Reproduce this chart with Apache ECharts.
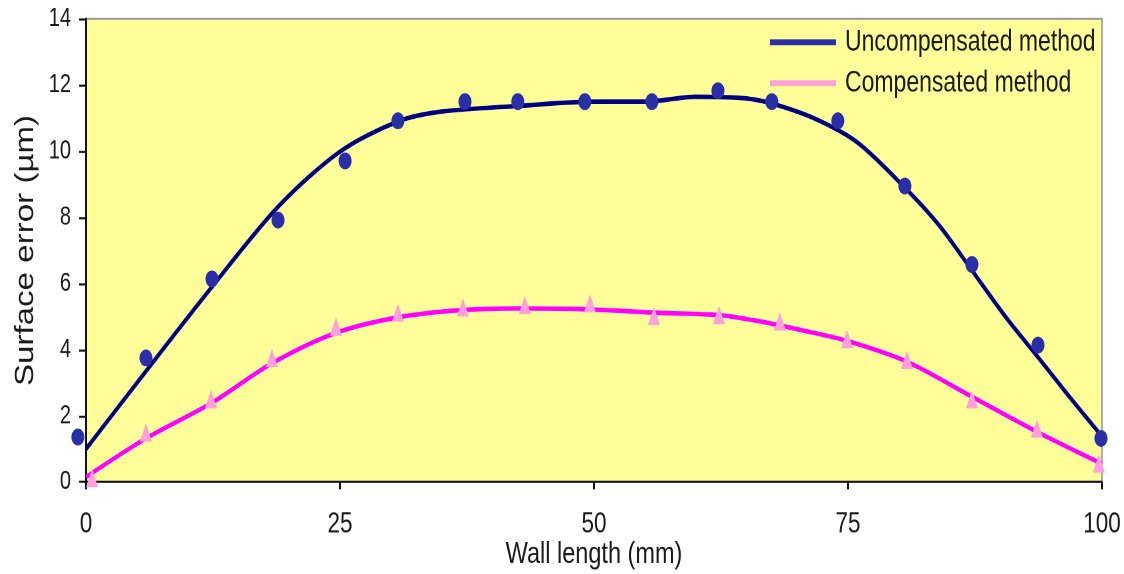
<!DOCTYPE html>
<html>
<head>
<meta charset="utf-8">
<title>Surface error along wall length</title>
<script src="https://cdn.jsdelivr.net/npm/echarts@6/dist/echarts.min.js"></script>
<style>
  html { margin: 0; padding: 0; overflow: hidden; background: #ffffff; }
  body { margin: 0; padding: 0; width: 1124px; height: 574px; background: #ffffff; }
  /* The chart is laid out on a shorter canvas and stretched to full height,
     which gives the tall, narrow lettering and oval markers of the figure. */
  #chart {
    width: 1124px;
    height: 442px;
    transform: scaleY(1.2986);
    transform-origin: 0 0;
  }
</style>
</head>
<body>
<div id="chart"></div>
<script>
// Measured surface error (µm) at positions along the wall (mm)
const uncompX = [-0.8, 5.9, 12.4, 18.9, 25.5, 30.7, 37.3, 42.5, 49.1, 55.7, 62.2, 67.5, 74.0, 80.6, 87.2, 93.7, 99.9];
const uncompY = [1.36, 3.75, 6.14, 7.92, 9.71, 10.92, 11.5, 11.5, 11.5, 11.5, 11.83, 11.5, 10.92, 8.95, 6.58, 4.14, 1.32];

const compX = [0.6, 5.9, 12.3, 18.3, 24.6, 30.7, 37.1, 43.2, 49.6, 55.9, 62.3, 68.3, 74.9, 80.8, 87.2, 93.6, 99.7];
const compY = [0.12, 1.5, 2.5, 3.75, 4.7, 5.12, 5.28, 5.35, 5.4, 5.02, 5.05, 4.85, 4.32, 3.7, 2.5, 1.62, 0.56];

// Trend curves through each data set
const uncompFitX = [0, 6, 12.4, 18.9, 25, 30.7, 35, 42.5, 50, 55, 60, 65, 68, 72, 76, 80.6, 84, 87.2, 90.5, 93.9, 97, 100];
const uncompFitY = [1.0, 3.39, 5.9, 8.32, 9.99, 10.9, 11.2, 11.37, 11.5, 11.5, 11.65, 11.6, 11.4, 10.95, 10.25, 8.9, 7.75, 6.4, 5.0, 3.7, 2.5, 1.38];

const compFitX = [0, 5.9, 12.3, 18.3, 24.6, 30.7, 37, 43, 49.6, 56, 62.3, 66.1, 70.3, 74.9, 80.8, 87.2, 93.6, 100];
const compFitY = [0.15, 1.32, 2.38, 3.59, 4.51, 4.98, 5.2, 5.25, 5.22, 5.12, 5.05, 4.87, 4.6, 4.27, 3.64, 2.58, 1.52, 0.55];

// Axis ticks
const xTicks = [0, 25, 50, 75, 100];
const yTicks = [0, 2, 4, 6, 8, 10, 12, 14];

const seriesNames = ['Uncompensated method', 'Compensated method'];

const pairs = (xs, ys) => xs.map((x, i) => [x, ys[i]]);

const sans = "'Liberation Sans', Arial, sans-serif";
const textColor = '#1a1a1a';

const chart = echarts.init(document.getElementById('chart'), null, {
  renderer: 'canvas',
  devicePixelRatio: 2
});

chart.setOption({
  backgroundColor: '#ffffff',
  animation: false,
  grid: {
    left: 86, right: 22, top: 14.6, bottom: 70.8,
    outerBoundsMode: 'none',
    show: true,
    backgroundColor: '#ffff99',
    borderColor: '#9a9a9a',
    borderWidth: 1.6
  },
  legend: {
    orient: 'vertical',
    left: 765,
    top: 16,
    itemWidth: 66,
    itemHeight: 4.5,
    itemGap: 8.5,
    textStyle: { fontFamily: sans, fontSize: 23, color: textColor, padding: [0, 0, 0, 4] },
    data: [
      { name: seriesNames[0], icon: 'rect', itemStyle: { color: '#2a2fa8' } },
      { name: seriesNames[1], icon: 'rect', itemStyle: { color: '#ff9fdc' } }
    ]
  },
  xAxis: {
    type: 'value',
    min: xTicks[0],
    max: xTicks[xTicks.length - 1],
    interval: 25,
    name: 'Wall length (mm)',
    nameLocation: 'middle',
    nameGap: 44,
    nameMoveOverlap: false,
    nameTextStyle: { fontFamily: sans, fontSize: 23.5, color: textColor },
    axisLine: { lineStyle: { color: '#111', width: 1.6 } },
    axisTick: { show: true, length: 5.5, lineStyle: { color: '#111', width: 2 } },
    axisLabel: { fontFamily: sans, fontSize: 22.5, color: textColor, margin: 21 },
    splitLine: { show: false }
  },
  yAxis: {
    type: 'value',
    min: yTicks[0],
    max: yTicks[yTicks.length - 1],
    interval: 2,
    name: 'Surface error (µm)',
    nameLocation: 'middle',
    nameRotate: 90,
    nameGap: 47,
    nameMoveOverlap: false,
    nameTextStyle: { fontFamily: sans, fontSize: 25.5, color: textColor },
    axisLine: { show: true, lineStyle: { color: '#111', width: 2 } },
    axisTick: { show: true, length: 7, lineStyle: { color: '#111', width: 1.6 } },
    axisLabel: { fontFamily: sans, fontSize: 20, color: textColor, margin: 15 },
    splitLine: { show: false }
  },
  series: [
    {
      name: 'Uncompensated trend',
      type: 'line',
      data: pairs(uncompFitX, uncompFitY),
      smooth: 0.3,
      showSymbol: false,
      lineStyle: { color: '#000080', width: 3.5 },
      z: 2
    },
    {
      name: 'Compensated trend',
      type: 'line',
      data: pairs(compFitX, compFitY),
      smooth: 0.3,
      showSymbol: false,
      lineStyle: { color: '#ff00ff', width: 3.5 },
      z: 2
    },
    {
      name: seriesNames[0],
      type: 'scatter',
      data: pairs(uncompX, uncompY),
      symbol: 'circle',
      symbolSize: 13,
      itemStyle: { color: '#2a2fa8', opacity: 1 },
      clip: false,
      z: 3
    },
    {
      name: seriesNames[1],
      type: 'scatter',
      data: pairs(compX, compY),
      symbol: 'triangle',
      symbolSize: [12, 14],
      itemStyle: { color: '#ff9fdc', opacity: 1 },
      clip: false,
      z: 3
    }
  ]
});
</script>
</body>
</html>
